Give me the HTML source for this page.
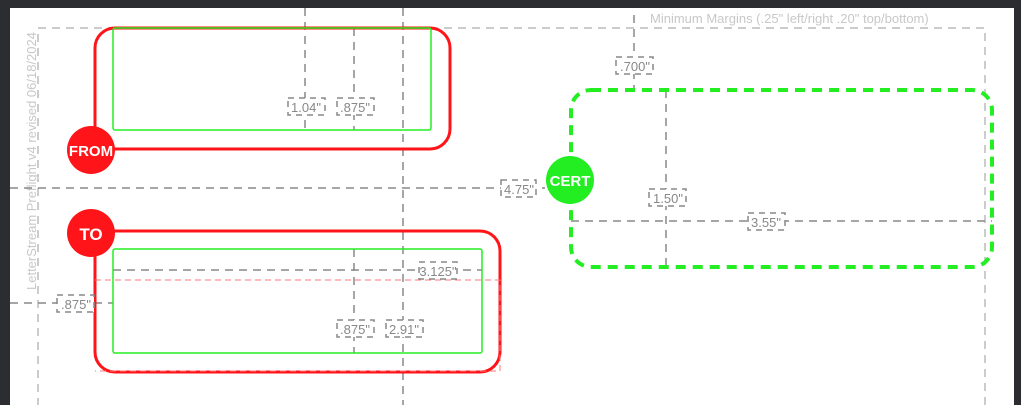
<!DOCTYPE html>
<html><head><style>
body{margin:0;width:1021px;height:405px;overflow:hidden;background:#2b2d30;font-family:"Liberation Sans",sans-serif}
</style></head><body>
<svg width="1021" height="405" xmlns="http://www.w3.org/2000/svg" style="position:absolute;left:0;top:0">
<rect x="10" y="8" width="1004" height="397" fill="#fff"/>
<rect x="1014" y="0" width="7" height="405" fill="#2b2d30"/>
<g fill="none" stroke="#bbb" stroke-width="1.5" stroke-dasharray="8,6">
<path d="M985 405 V28 H38 V405"/>
</g>
<text x="650" y="23" font-size="13" fill="#c8c8c8">Minimum Margins (.25" left/right .20" top/bottom)</text>
<text transform="translate(36,290) rotate(-90)" font-size="13" fill="#c8c8c8">LetterStream Preflight v4 revised 06/18/2024</text>
<g fill="none" stroke="#888" stroke-width="1.5" stroke-dasharray="8,6">
<path d="M305 8 V130"/><path d="M354 28 V130"/><path d="M403 8 V405"/>
<path d="M10 188 H545"/>
<path d="M634 15 V90"/><path d="M666 90 V267"/><path d="M571 221 H992"/>
<path d="M113 270 H482"/><path d="M10 303 H113"/><path d="M354 249 V353"/>
</g>
<rect x="95" y="28" width="355" height="121" rx="20" fill="none" stroke="#ff1419" stroke-width="3"/>
<rect x="113" y="28" width="318" height="102" rx="2" fill="none" stroke="#22ee22" stroke-width="1.5"/>
<rect x="95" y="231" width="405" height="141" rx="20" fill="none" stroke="#ff1419" stroke-width="3"/>
<rect x="113" y="249" width="369" height="104" rx="2" fill="none" stroke="#22ee22" stroke-width="1.5"/>
<path d="M95 280 H500 V371 H95" fill="none" stroke="#ff7777" stroke-width="1" stroke-dasharray="6,4"/>
<rect x="571" y="90" width="421" height="177" rx="20" fill="none" stroke="#22ee22" stroke-width="4" stroke-dasharray="10,7"/>
<g font-size="13" fill="#888" text-anchor="middle">
<g fill="#fff" stroke="#888" stroke-width="1.5" stroke-dasharray="6,5">
<rect x="288" y="98" width="37" height="17"/><rect x="337" y="98" width="37" height="17"/>
<rect x="501" y="180" width="35" height="17"/><rect x="616" y="57" width="37" height="17"/>
<rect x="649" y="189" width="37" height="17"/><rect x="748" y="213" width="37" height="17"/>
<rect x="419" y="262" width="38" height="17"/><rect x="57" y="295" width="37" height="17"/>
<rect x="337" y="320" width="37" height="17"/><rect x="386" y="320" width="37" height="17"/>
</g>
<text x="306" y="112">1.04"</text><text x="355" y="112">.875"</text>
<text x="519" y="194">4.75"</text><text x="635" y="71">.700"</text>
<text x="668" y="203">1.50"</text><text x="766" y="227">3.55"</text>
<text x="438" y="276">3.125"</text><text x="76" y="309">.875"</text>
<text x="355" y="334">.875"</text><text x="404" y="334">2.91"</text>
</g>
<circle cx="91" cy="150" r="24" fill="#ff1419"/>
<text x="91" y="156" font-size="15" font-weight="bold" fill="#fff" text-anchor="middle">FROM</text>
<circle cx="91" cy="233" r="24" fill="#ff1419"/>
<text x="91" y="240" font-size="17" font-weight="bold" fill="#fff" text-anchor="middle">TO</text>
<circle cx="570" cy="180" r="24" fill="#22ee22"/>
<text x="570" y="186" font-size="15" font-weight="bold" fill="#fff" text-anchor="middle">CERT</text>
</svg>
</body></html>
